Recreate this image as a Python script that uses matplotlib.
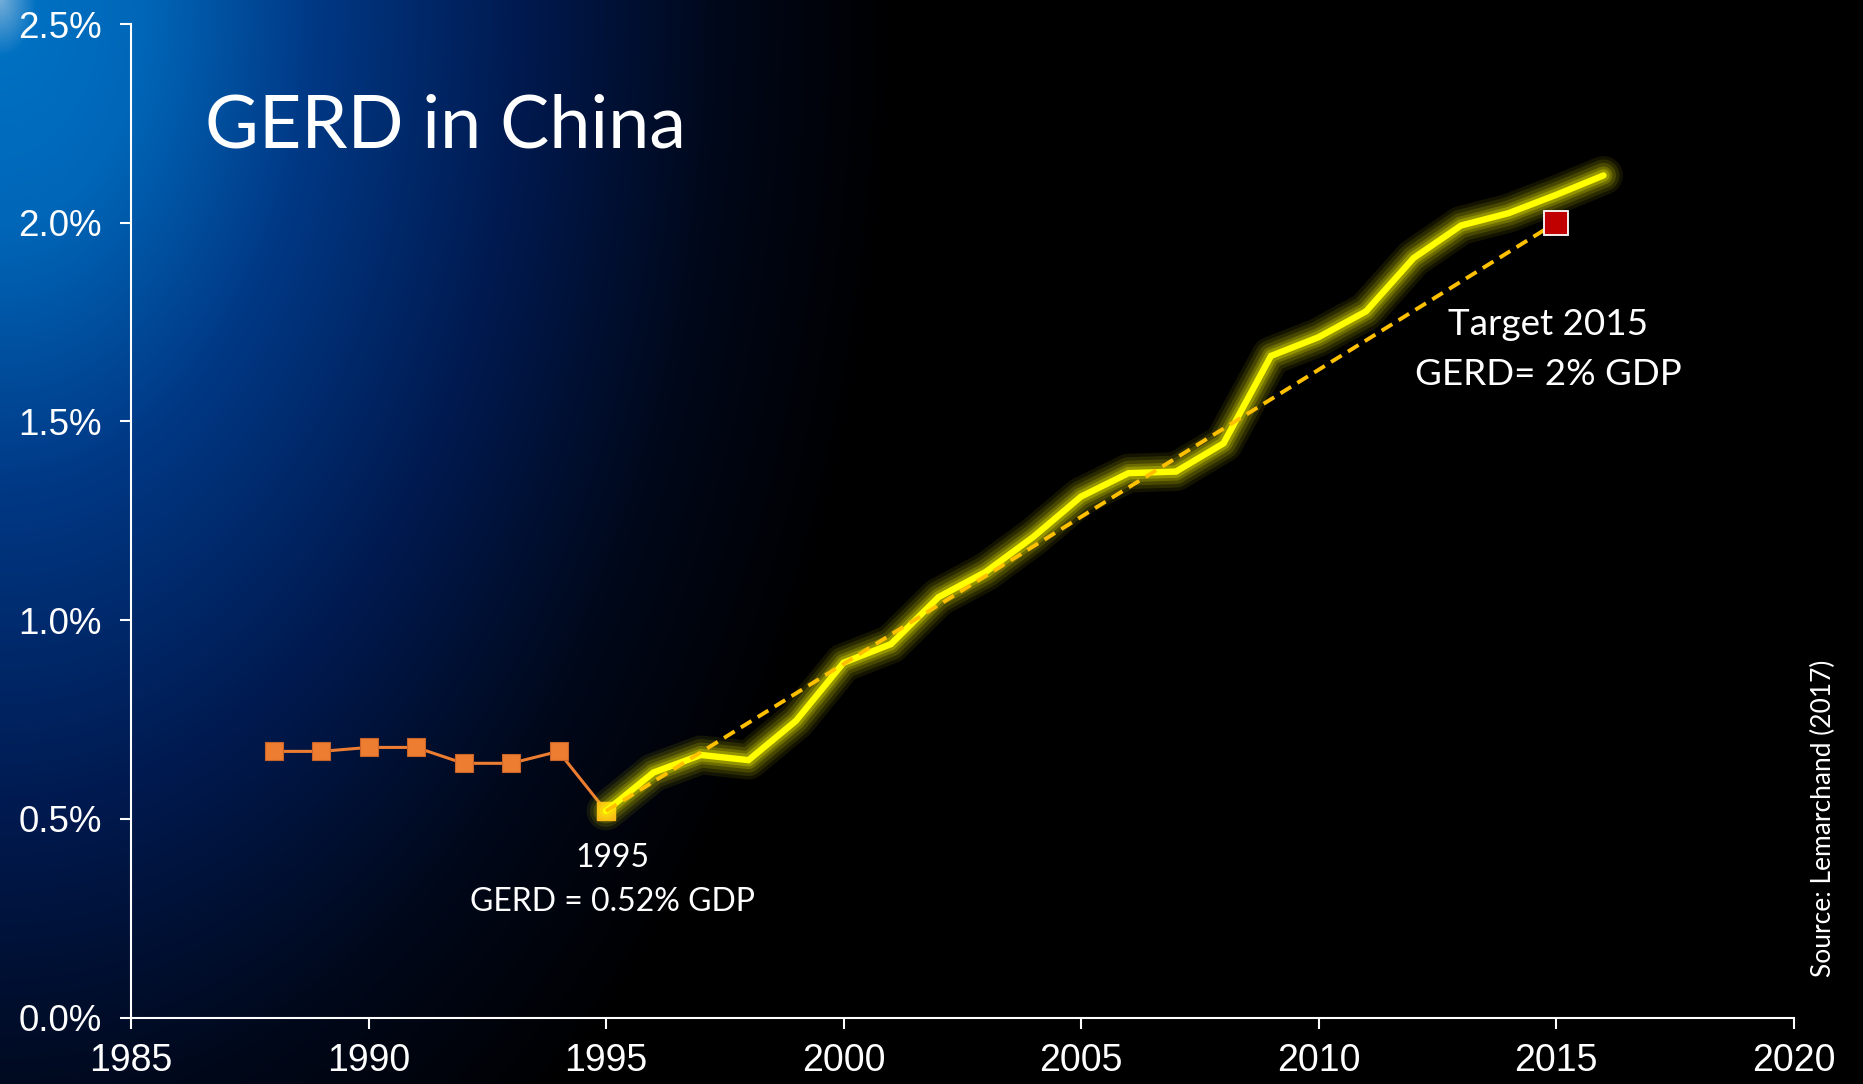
import numpy as np
import matplotlib
matplotlib.use("Agg")
import matplotlib.pyplot as plt

## Données

annees_avant = [1988, 1989, 1990, 1991, 1992, 1993, 1994, 1995]
gerd_avant = [0.67, 0.67, 0.68, 0.68, 0.64, 0.64, 0.67, 0.52]

annees = [1995, 1996, 1997, 1998, 1999, 2000, 2001, 2002, 2003, 2004, 2005,
          2006, 2007, 2008, 2009, 2010, 2011, 2012, 2013, 2014, 2015, 2016]
gerd = [0.52, 0.617, 0.661, 0.648, 0.747, 0.893, 0.94, 1.058, 1.122, 1.21, 1.311,
        1.37, 1.374, 1.445, 1.665, 1.712, 1.777, 1.911, 1.993, 2.024, 2.07, 2.119]

objectif_annees = [1995, 2015]
objectif_valeurs = [0.52, 2.0]

x_ticks = [1985, 1990, 1995, 2000, 2005, 2010, 2015, 2020]
y_ticks = [0.0, 0.5, 1.0, 1.5, 2.0, 2.5]

## Figure

W, H = 1863, 1084
fig = plt.figure(figsize=(W / 100, H / 100), dpi=100)
fig.patch.set_facecolor("black")

# fond dégradé (radial depuis le coin haut gauche)
yy, xx = np.mgrid[0:H, 0:W]
t = np.sqrt((xx / 900.0) ** 2 + (yy / 1400.0) ** 2)
stops = [0.0, 0.04, 0.16, 0.35, 0.58, 0.8, 1.0]
r_c = [0.45, 0.00, 0.00, 0.00, 0.00, 0.00, 0.0]
g_c = [0.68, 0.44, 0.40, 0.22, 0.10, 0.03, 0.0]
b_c = [0.85, 0.76, 0.72, 0.52, 0.31, 0.10, 0.0]
img = np.dstack([np.interp(t, stops, r_c), np.interp(t, stops, g_c), np.interp(t, stops, b_c)])
bg = fig.add_axes([0, 0, 1, 1], zorder=-1)
bg.imshow(img, aspect="auto", extent=[0, 1, 0, 1])
bg.axis("off")

ax = fig.add_axes([131 / W, 1 - 1017.7 / H, (1793.5 - 131) / W, (1017.7 - 24) / H])
ax.set_facecolor("none")

# série orange 1988-1995
ax.plot(annees_avant, gerd_avant, color="#ED7D31", lw=2.2, marker="s", ms=13.5,
        mfc="#ED7D31", mec="#C8642A", mew=0.8, zorder=3)
ax.plot([annees_avant[-1]], [gerd_avant[-1]], marker="s", ms=13.5, color="#F4A020",
        mec="#F4A020", zorder=4)

# halo jaune
for lw, a in [(28, 0.08), (23, 0.10), (18, 0.14), (13, 0.2), (9, 0.28)]:
    ax.plot(annees, gerd, color="#FFFF00", lw=lw, alpha=a, solid_capstyle="round",
            solid_joinstyle="round", zorder=5)
ax.plot(annees, gerd, color="#FFFF00", lw=4.6, solid_capstyle="round",
        solid_joinstyle="miter", zorder=6)

# droite objectif
ax.plot(objectif_annees, objectif_valeurs, color="#FFC000", lw=2.8,
        dashes=(3.2, 1.9), zorder=7)
ax.plot([objectif_annees[-1]], [objectif_valeurs[-1]], marker="s", ms=17,
        mfc="#C00000", mec="white", mew=1.3, zorder=8, ls="none")

## Axes

ax.set_xlim(1985, 2020)
ax.set_ylim(0, 2.5)
ax.set_xticks(x_ticks)
ax.set_xticklabels([str(v) for v in x_ticks])
ax.set_yticks(y_ticks)
ax.set_yticklabels(["{:.1f}%".format(v) for v in y_ticks])
for s in ["top", "right"]:
    ax.spines[s].set_visible(False)
for s in ["left", "bottom"]:
    ax.spines[s].set_color("white")
    ax.spines[s].set_linewidth(1.5)
ax.tick_params(axis="both", colors="white", length=8, width=1.5, direction="out")
ax.tick_params(axis="x", labelsize=27, pad=10)
ax.tick_params(axis="y", labelsize=26.5, pad=13)
for lab in ax.get_xticklabels() + ax.get_yticklabels():
    lab.set_fontfamily("Liberation Sans")

## Textes

fig.text(205 / W, 1 - 148 / H, "GERD in China", color="white", fontsize=53,
         family="Lato", va="baseline", ha="left")

ax.text(1995.13, 0.38, "1995", color="white", fontsize=23, family="Lato",
        ha="center", va="baseline")
ax.text(1995.13, 0.2685, "GERD = 0.52% GDP", color="white", fontsize=23, family="Lato",
        ha="center", va="baseline")
ax.text(2014.83, 1.718, "Target 2015", color="white", fontsize=26.5, family="Lato",
        ha="center", va="baseline")
ax.text(2014.83, 1.592, "GERD= 2% GDP", color="white", fontsize=26.5, family="Lato",
        ha="center", va="baseline")

fig.text(1823 / W, 1 - 818 / H, "Source: Lemarchand (2017)", color="white", fontsize=19,
         family="Lato", rotation=90, ha="center", va="center")

plt.savefig("out.png", dpi=100, facecolor=fig.get_facecolor())
